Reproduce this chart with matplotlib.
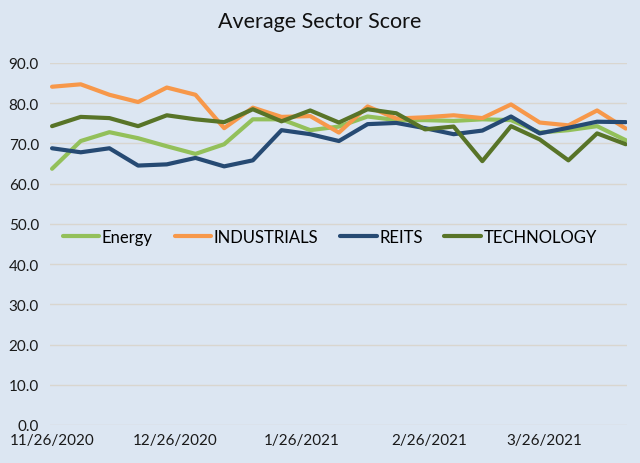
import matplotlib
matplotlib.use("Agg")
import matplotlib.pyplot as plt
import numpy as np
import pandas as pd

# weekly readings, 11/26/2020 .. 4/15/2021
dates = pd.date_range("2020-11-26", periods=21, freq="7D")
energy = [63.7, 70.6, 72.8, 71.3, 69.3, 67.4, 69.8, 76.0, 76.0, 73.3, 74.2,
          76.7, 75.8, 75.8, 75.6, 76.0, 75.8, 72.7, 73.3, 74.3, 70.8]
industrials = [84.1, 84.7, 82.1, 80.3, 83.9, 82.1, 73.8, 78.9, 76.6, 76.8, 72.7,
               79.2, 76.2, 76.5, 77.0, 76.3, 79.7, 75.2, 74.5, 78.2, 73.7]
reits = [68.8, 67.8, 68.8, 64.5, 64.8, 66.4, 64.3, 65.8, 73.3, 72.3, 70.6,
         74.8, 75.1, 73.8, 72.3, 73.2, 76.7, 72.5, 73.9, 75.4, 75.3]
technology = [74.3, 76.6, 76.3, 74.3, 77.0, 76.0, 75.3, 78.5, 75.5, 78.2, 75.2,
              78.5, 77.5, 73.5, 74.2, 65.6, 74.3, 71.0, 65.8, 72.5, 69.8]

tick_dates = pd.to_datetime(["2020-11-26", "2020-12-26", "2021-01-26", "2021-02-26", "2021-03-26"])
yticks = np.arange(0, 91, 10)

BG = "#dce6f2"
series = [("Energy", energy, "#93c05a"),
          ("INDUSTRIALS", industrials, "#f7984a"),
          ("REITS", reits, "#264a73"),
          ("TECHNOLOGY", technology, "#587428")]

plt.rcParams["font.family"] = ["Lato", "DejaVu Sans"]

fig = plt.figure(figsize=(6.4, 4.64), dpi=100, facecolor=BG)
ax = fig.add_axes([50 / 640, 1 - 426 / 464, 577 / 640, 362 / 464], facecolor=BG)

for name, vals, color in series:
    ax.plot(dates, vals, color=color, lw=3, label=name, solid_capstyle="round")

ax.set_ylim(0, 90)
ax.set_yticks(yticks)
ax.set_yticklabels([f"{v:.1f}" for v in yticks])
ax.set_xlim(dates[0] - pd.Timedelta(days=0.5), dates[-1] + pd.Timedelta(days=0.3))
ax.set_xticks(tick_dates)
ax.set_xticklabels([f"{d.month}/{d.day}/{d.year}" for d in tick_dates])
ax.grid(axis="y", color="#d9d6cf", lw=1)
ax.set_axisbelow(True)
for s in ax.spines.values():
    s.set_visible(False)
ax.tick_params(length=0, labelsize=11, colors="#1a1a1a")
ax.tick_params(axis="y", pad=8)
ax.tick_params(axis="x", pad=6)

ax.legend(loc="center", bbox_to_anchor=(0.485, 0.52), ncol=4, frameon=False,
          fontsize=12, handlelength=2.2, handletextpad=0.15, columnspacing=1.3)

fig.suptitle("Average Sector Score", y=0.975, fontsize=15.5, color="#111111")
fig.savefig("out.png", dpi=100, facecolor=BG)
